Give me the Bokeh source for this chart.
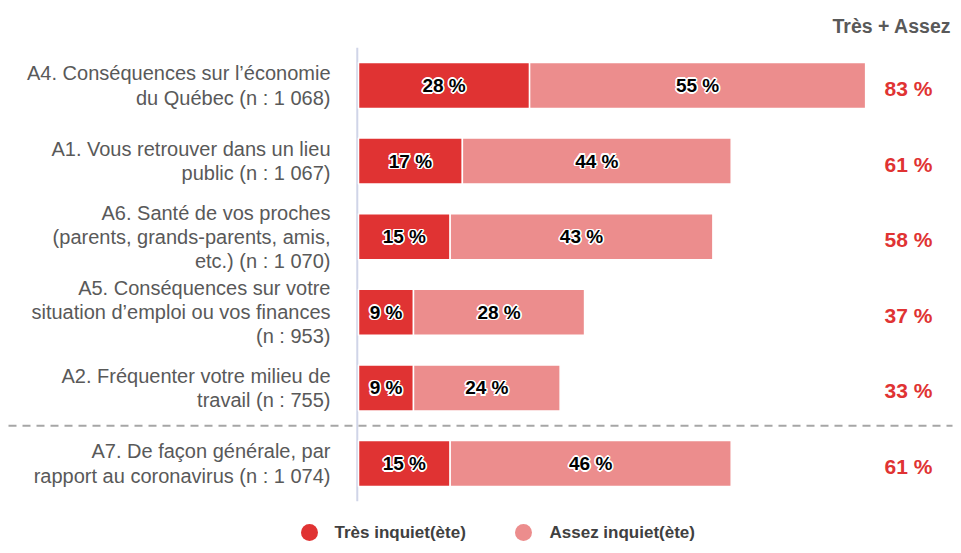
from bokeh.plotting import figure
from bokeh.models import Range1d, ColumnDataSource
from bokeh.core.properties import value
from bokeh.embed import file_html
from bokeh.resources import INLINE

# ---- data ----
categories = [
    "A4. Conséquences sur l’économie\ndu Québec (n : 1 068)",
    "A1. Vous retrouver dans un lieu\npublic (n : 1 067)",
    "A6. Santé de vos proches\n(parents, grands-parents, amis,\netc.) (n : 1 070)",
    "A5. Conséquences sur votre\nsituation d’emploi ou vos finances\n(n : 953)",
    "A2. Fréquenter votre milieu de\ntravail (n : 755)",
    "A7. De façon générale, par\nrapport au coronavirus (n : 1 074)",
]
tres = [28, 17, 15, 9, 9, 15]
assez = [55, 44, 43, 28, 24, 46]
total = [83, 61, 58, 37, 33, 61]
series_names = ["Très inquiet(ète)", "Assez inquiet(ète)"]
header = "Très + Assez"

RED = "#E03333"
PINK = "#EC8D8D"
FONT = "Liberation Sans"

W, H = 953, 545
PX_PER_X = 6.11
X0_PX = 358
ROW_PX = 75.6
ROW0_PX = 85

x_start = -X0_PX / PX_PER_X
x_end = (W - X0_PX) / PX_PER_X
y_top = -ROW0_PX / ROW_PX
y_bottom = (H - ROW0_PX) / ROW_PX


def px_x(px):
    return (px - X0_PX) / PX_PER_X


def px_y(px):
    return (px - ROW0_PX) / ROW_PX


p = figure(width=W, height=H, output_backend="svg", toolbar_location=None,
           x_axis_type=None, y_axis_type=None,
           x_range=Range1d(x_start, x_end), y_range=Range1d(y_bottom, y_top),
           min_border=0, outline_line_color=None, tools="")
p.grid.visible = False
p.background_fill_color = "white"
p.border_fill_color = "white"

n = len(categories)
rows = list(range(n))
bar_h = 46 / ROW_PX

# vertical axis line at 0
p.segment(x0=[-0.2], x1=[-0.2], y0=[-0.5], y1=[n - 0.5], line_color="#D0D5E8", line_width=2)

src = ColumnDataSource(dict(
    y=rows, tres=tres, assez=assez, total=total, cat=categories,
    cum=[t + a for t, a in zip(tres, assez)],
    tres_mid=[t / 2 for t in tres],
    assez_mid=[t + a / 2 for t, a in zip(tres, assez)],
    tres_lbl=[f"{t} %" for t in tres],
    assez_lbl=[f"{a} %" for a in assez],
    total_lbl=[f"{t} %" for t in total],
))

p.hbar(y="y", left=0, right="tres", height=bar_h, source=src,
       fill_color=RED, line_color="white", line_width=1.5)
p.hbar(y="y", left="tres", right="cum", height=bar_h, source=src,
       fill_color=PINK, line_color="white", line_width=1.5)

# separator before last row
p.segment(x0=[px_x(8)], x1=[px_x(952)], y0=[n - 1.5], y1=[n - 1.5],
          line_color="#A6A6A6", line_width=2, line_dash="8 6")

# bar labels with white halo
offsets = [(-1.6, 0), (1.6, 0), (0, -1.6), (0, 1.6),
           (-1.2, -1.2), (1.2, -1.2), (-1.2, 1.2), (1.2, 1.2)]
for xcol, tcol in (("tres_mid", "tres_lbl"), ("assez_mid", "assez_lbl")):
    for dx, dy in offsets:
        p.text(x=xcol, y="y", text=tcol, source=src, text_align="center",
               text_baseline="middle", text_font=value(FONT), text_font_style="bold",
               text_font_size="19px", text_color="white", x_offset=dx, y_offset=dy)
    p.text(x=xcol, y="y", text=tcol, source=src, text_align="center",
           text_baseline="middle", text_font=value(FONT), text_font_style="bold",
           text_font_size="19px", text_color="black")

# category labels
p.text(x=px_x(330), y="y", text="cat", source=src, text_align="right",
       text_baseline="middle", text_font=value(FONT), text_font_size="20px",
       text_color="#595959", text_line_height=1.1)

# totals
p.text(x=px_x(884), y="y", text="total_lbl", source=src, text_align="left",
       text_baseline="middle", text_font=value(FONT), text_font_style="bold",
       text_font_size="21px", text_color=RED, y_offset=3)

# header
p.text(x=[px_x(832)], y=[px_y(25)], text=[header], text_align="left",
       text_baseline="middle", text_font=value(FONT), text_font_style="bold",
       text_font_size="19.5px", text_color="#595959")

# legend (manual)
leg_y = px_y(532)
p.scatter(x=[px_x(309), px_x(523)], y=[leg_y, leg_y], size=17, marker="circle",
          fill_color=[RED, PINK], line_color=None)
p.text(x=[px_x(334), px_x(549)], y=[leg_y, leg_y], text=series_names, text_align="left",
       text_baseline="middle", text_font=value(FONT), text_font_style="bold",
       text_font_size="17px", text_color="#404040")

open("out.html", "w").write(file_html(p, INLINE))
